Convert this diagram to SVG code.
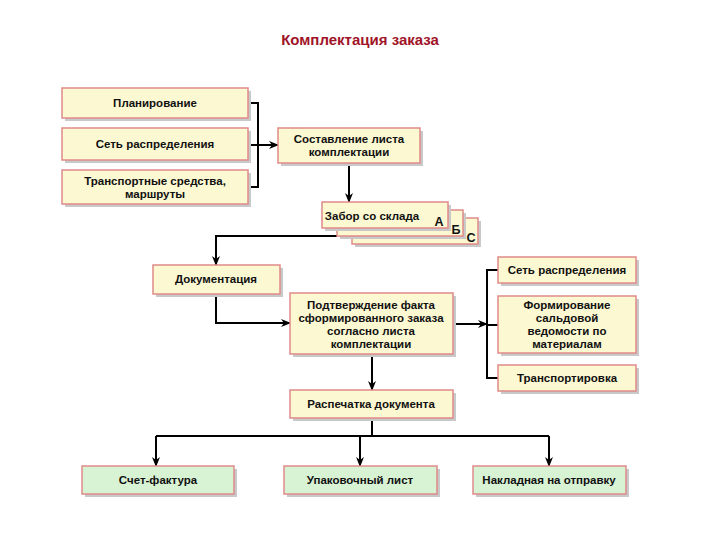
<svg xmlns="http://www.w3.org/2000/svg" width="720" height="540" viewBox="0 0 720 540">
<style>
.t{font-family:"Liberation Sans",Arial,sans-serif;font-weight:bold;font-size:11.5px;fill:#111;text-anchor:middle}
.L{font-size:12.5px}
.title{font-family:"Liberation Sans",Arial,sans-serif;font-weight:bold;font-size:15px;fill:#a01428;text-anchor:middle}
.sh{fill:#c9c9c9}
.y{fill:#fcf8d2;stroke:#e08a8a;stroke-width:1.5}
.g{fill:#d8f2d4;stroke:#e08a8a;stroke-width:1.5}
.c{fill:none;stroke:#000;stroke-width:2}
.ca{fill:none;stroke:#000;stroke-width:2;marker-end:url(#ah)}
</style>
<defs>
<marker id="ah" markerUnits="userSpaceOnUse" markerWidth="10" markerHeight="10" refX="9" refY="5" orient="auto">
<path d="M0,1 L10,5 L0,9 L3,5 z" fill="#000"/>
</marker>
</defs>
<rect width="720" height="540" fill="#fff"/>
<text class="title" x="360" y="45">Комплектация заказа</text>

<g id="connectors">
<path class="c" d="M248,103 H258 V187 H248"/>
<path class="c" d="M248,145 H258"/>
<path class="ca" d="M258,145 H278"/>
<path class="ca" d="M349,164 V202"/>
<path class="ca" d="M337,236 H216 V265"/>
<path class="ca" d="M216,295 V323 H290"/>
<path class="ca" d="M453,324 H487"/>
<path class="c" d="M498,270 H487 V378 H498"/>
<path class="c" d="M487,325 H498"/>
<path class="ca" d="M372,354 V390"/>
<path class="c" d="M372,418 V436"/>
<path class="c" d="M156,436 H549"/>
<path class="ca" d="M156,436 V466"/>
<path class="ca" d="M360,436 V466"/>
<path class="ca" d="M549,436 V466"/>
</g>

<g id="n-planirovanie">
<rect class="sh" x="65" y="91" width="186" height="30"/>
<rect class="y" x="62" y="88" width="186" height="30"/>
<text class="t" x="155" y="107">Планирование</text>
</g>
<g id="n-set1">
<rect class="sh" x="65" y="131" width="186" height="32"/>
<rect class="y" x="62" y="128" width="186" height="32"/>
<text class="t" x="155" y="148">Сеть распределения</text>
</g>
<g id="n-transport">
<rect class="sh" x="65" y="173" width="186" height="34"/>
<rect class="y" x="62" y="170" width="186" height="34"/>
<text class="t" x="155" y="185">Транспортные средства,</text>
<text class="t" x="155" y="198">маршруты</text>
</g>
<g id="n-sostavlenie">
<rect class="sh" x="281" y="131" width="142" height="35"/>
<rect class="y" x="278" y="128" width="142" height="35"/>
<text class="t" x="349" y="143">Составление листа</text>
<text class="t" x="349" y="156">комплектации</text>
</g>
<g id="n-zabor">
<rect class="sh" x="355" y="221" width="126" height="26"/>
<rect class="y" x="352" y="218" width="126" height="26"/>
<text class="t L" x="471" y="242">С</text>
<rect class="sh" x="340" y="213" width="126" height="26"/>
<rect class="y" x="337" y="210" width="126" height="26"/>
<text class="t L" x="456" y="234">Б</text>
<rect class="sh" x="325" y="205" width="126" height="26"/>
<rect class="y" x="322" y="202" width="126" height="26"/>
<text class="t" x="372" y="220">Забор со склада</text>
<text class="t L" x="439" y="226">А</text>
</g>
<g id="n-dokumentacia">
<rect class="sh" x="156" y="268" width="127" height="29"/>
<rect class="y" x="153" y="265" width="127" height="29"/>
<text class="t" x="216" y="283">Документация</text>
</g>
<g id="n-podtverzhdenie">
<rect class="sh" x="293" y="296" width="163" height="61"/>
<rect class="y" x="290" y="293" width="163" height="61"/>
<text class="t" x="371" y="309">Подтверждение факта</text>
<text class="t" x="371" y="322">сформированного заказа</text>
<text class="t" x="371" y="335">согласно листа</text>
<text class="t" x="371" y="348">комплектации</text>
</g>
<g id="n-set2">
<rect class="sh" x="501" y="260" width="138" height="26"/>
<rect class="y" x="498" y="257" width="138" height="26"/>
<text class="t" x="567" y="274">Сеть распределения</text>
</g>
<g id="n-formirovanie">
<rect class="sh" x="501" y="299" width="138" height="57"/>
<rect class="y" x="498" y="296" width="138" height="57"/>
<text class="t" x="567" y="309">Формирование</text>
<text class="t" x="567" y="322">сальдовой</text>
<text class="t" x="567" y="335">ведомости по</text>
<text class="t" x="567" y="348">материалам</text>
</g>
<g id="n-transportirovka">
<rect class="sh" x="501" y="368" width="138" height="26"/>
<rect class="y" x="498" y="365" width="138" height="26"/>
<text class="t" x="567" y="382">Транспортировка</text>
</g>
<g id="n-raspechatka">
<rect class="sh" x="293" y="393" width="163" height="28"/>
<rect class="y" x="290" y="390" width="163" height="28"/>
<text class="t" x="371" y="408">Распечатка документа</text>
</g>
<g id="n-schet">
<rect class="sh" x="85" y="469" width="152" height="28"/>
<rect class="g" x="82" y="466" width="152" height="28"/>
<text class="t" x="158" y="484">Счет-фактура</text>
</g>
<g id="n-upakovochny">
<rect class="sh" x="287" y="469" width="153" height="28"/>
<rect class="g" x="284" y="466" width="153" height="28"/>
<text class="t" x="360" y="484">Упаковочный лист</text>
</g>
<g id="n-nakladnaya">
<rect class="sh" x="476" y="469" width="153" height="28"/>
<rect class="g" x="473" y="466" width="153" height="28"/>
<text class="t" x="549" y="484">Накладная на отправку</text>
</g>
</svg>
